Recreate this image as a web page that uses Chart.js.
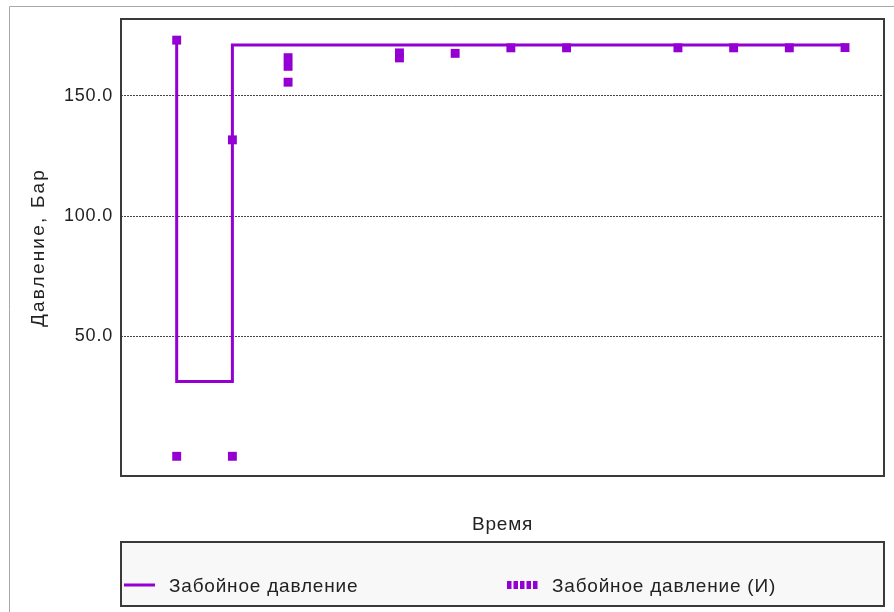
<!DOCTYPE html>
<html>
<head>
<meta charset="utf-8">
<script src="https://cdn.jsdelivr.net/npm/chart.js@4/dist/chart.umd.min.js"></script>
<style>
  html, body { margin: 0; padding: 0; background: #ffffff; }
  canvas { display: block; }
</style>
</head>
<body>
<canvas id="chart" width="894" height="612"></canvas>
<script>
// Modelled bottom-hole pressure (stepped line)
const modelTimes = [1, 1, 2, 2, 13];
const modelValues = [173.2, 31.1, 31.1, 171.2, 171.2];

// Measured bottom-hole pressure (points)
const measTimes = [1, 1, 2, 2, 3, 3, 3, 5, 5, 6, 7, 8, 10, 11, 12, 13];
const measValues = [173.2, 0, 131.7, 0, 165.9, 162.3, 155.7, 167.9, 165.8, 167.7, 170.0, 170.0, 170.0, 170.0, 170.0, 170.1];

const yTicks = [50, 100, 150];
const seriesLabels = ['Забойное давление', 'Забойное давление (И)'];
const xTitle = 'Время';
const yTitle = 'Давление, Бар';

const PURPLE = '#9400d3';
const TEXT = '#222222';
const FONT = '"Liberation Sans", Arial, sans-serif';

const toXY = (xs, ys) => xs.map((x, i) => ({ x: x, y: ys[i] }));

// Draw a scale title with its own letter spacing
function spacedTitle(scale, spacing) {
  if (scale._spacedTitle) return;
  const orig = scale.drawTitle;
  scale.drawTitle = function () {
    const ctx = this.ctx;
    const prev = ctx.letterSpacing;
    ctx.letterSpacing = spacing;
    orig.call(this);
    ctx.letterSpacing = prev;
  };
  scale._spacedTitle = true;
}

// Frame, outer border and legend box drawn around the plot
const decorations = {
  id: 'decorations',
  beforeDraw(chart) {
    const ctx = chart.ctx;
    ctx.letterSpacing = '0.8px';
    ctx.save();
    ctx.fillStyle = '#ffffff';
    ctx.fillRect(0, 0, chart.width, chart.height);
    ctx.strokeStyle = '#a8a8a8';
    ctx.lineWidth = 1;
    ctx.beginPath();
    ctx.moveTo(9.5, chart.height);
    ctx.lineTo(9.5, 6.5);
    ctx.lineTo(chart.width, 6.5);
    ctx.stroke();
    ctx.restore();
  },
  beforeDatasetsDraw(chart) {
    const { ctx, chartArea: a } = chart;
    ctx.save();
    ctx.strokeStyle = '#3a3a3a';
    ctx.lineWidth = 2;
    ctx.strokeRect(a.left, a.top, a.right - a.left, a.bottom - a.top);
    ctx.restore();
  },
  afterDraw(chart) {
    const { ctx, chartArea: a } = chart;
    const top = 542, bottom = 606;
    ctx.save();
    ctx.fillStyle = '#f8f8f8';
    ctx.fillRect(a.left, top, a.right - a.left, bottom - top);
    ctx.strokeStyle = '#3a3a3a';
    ctx.lineWidth = 2;
    ctx.strokeRect(a.left, top, a.right - a.left, bottom - top);

    const ds = chart.data.datasets;
    const rowY = 585;
    // line swatch
    ctx.strokeStyle = ds[0].borderColor;
    ctx.lineWidth = 3;
    ctx.beginPath();
    ctx.moveTo(124, rowY);
    ctx.lineTo(155, rowY);
    ctx.stroke();
    // point swatch
    ctx.fillStyle = ds[1].backgroundColor;
    for (let i = 0; i < 5; i++) {
      ctx.fillRect(507 + i * 6.5, rowY - 4, 4.5, 8);
    }
    ctx.fillStyle = TEXT;
    ctx.font = '19px ' + FONT;
    ctx.textBaseline = 'middle';
    ctx.textAlign = 'left';
    ctx.fillText(ds[0].label, 169, rowY + 2);
    ctx.fillText(ds[1].label, 552, rowY + 2);
    ctx.restore();
  }
};

new Chart(document.getElementById('chart'), {
  type: 'scatter',
  data: {
    datasets: [
      {
        label: seriesLabels[0],
        data: toXY(modelTimes, modelValues),
        showLine: true,
        borderColor: PURPLE,
        backgroundColor: PURPLE,
        borderWidth: 3,
        borderJoinStyle: 'miter',
        pointRadius: 0,
        tension: 0,
        order: 1
      },
      {
        label: seriesLabels[1],
        data: toXY(measTimes, measValues),
        showLine: false,
        pointStyle: 'rect',
        pointRadius: 6.3,
        pointBorderWidth: 0,
        borderWidth: 0,
        backgroundColor: PURPLE,
        borderColor: PURPLE,
        order: 2
      }
    ]
  },
  options: {
    responsive: false,
    devicePixelRatio: 1,
    animation: false,
    layout: { padding: { top: 19, right: 10, left: 0, bottom: 0 } },
    plugins: {
      legend: { display: false },
      tooltip: { enabled: false }
    },
    scales: {
      x: {
        type: 'linear',
        min: 0,
        max: 13.7,
        afterFit: s => { s.height = 136; },
        ticks: { display: false },
        grid: { display: false },
        border: { display: false },
        title: {
          display: true,
          text: xTitle,
          color: TEXT,
          font: { family: FONT, size: 19 },
          padding: { top: 0, bottom: 76 }
        }
      },
      y: {
        type: 'linear',
        min: -8.2,
        max: 182,
        afterFit: s => { s.width = 121; spacedTitle(s, '2.2px'); },
        afterBuildTicks: s => { s.ticks = yTicks.map(v => ({ value: v })); },
        ticks: {
          color: TEXT,
          padding: 8,
          font: { family: FONT, size: 18 },
          callback: v => Number(v).toFixed(1)
        },
        grid: {
          color: '#444444',
          lineWidth: 1,
          drawTicks: false
        },
        border: { display: false, dash: [2, 1] },
        title: {
          display: true,
          text: yTitle,
          color: TEXT,
          font: { family: FONT, size: 19 },
          padding: { top: 27, bottom: 0 }
        }
      }
    }
  },
  plugins: [decorations]
});
</script>
</body>
</html>
